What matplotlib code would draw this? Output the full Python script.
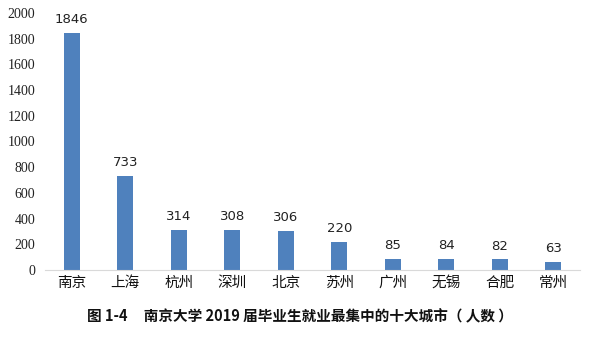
import matplotlib
matplotlib.use("Agg")
import matplotlib.pyplot as plt

plt.rcParams['font.family'] = ['Noto Sans CJK SC', 'DejaVu Sans']

cities = ["南京", "上海", "杭州", "深圳", "北京", "苏州", "广州", "无锡", "合肥", "常州"]
counts = [1846, 733, 314, 308, 306, 220, 85, 84, 82, 63]
yticks = [0, 200, 400, 600, 800, 1000, 1200, 1400, 1600, 1800, 2000]
title = "图 1-4     南京大学 2019 届毕业生就业最集中的十大城市（ 人数 ）"

fig = plt.figure(figsize=(5.91, 3.38), dpi=100)
ax = fig.add_axes([45 / 591, 68 / 338, 535 / 591, 257 / 338])

x = range(len(cities))
ax.bar(x, counts, width=0.3, color="#4F81BD", zorder=2)

for xi, v in zip(x, counts):
    ax.annotate(str(v), (xi, v), xytext=(0, 5), textcoords="offset points",
                ha="center", va="bottom", fontsize=9.5, color="#222222",
                family=["DejaVu Sans"])

ax.set_xlim(-0.5, len(cities) - 0.5)
ax.set_ylim(0, 2000)
ax.set_yticks(yticks)
ax.set_yticklabels([str(t) for t in yticks], family=["Liberation Serif"],
                   fontsize=10, color="#222222")
ax.set_xticks(list(x))
ax.set_xticklabels(cities, fontsize=10.5, color="#111111")
ax.tick_params(axis="both", length=0)
ax.tick_params(axis="y", pad=7)
ax.tick_params(axis="x", pad=4)

for side in ("left", "right", "top"):
    ax.spines[side].set_visible(False)
ax.spines["bottom"].set_color("#D9D9D9")
ax.spines["bottom"].set_linewidth(0.8)

fig.text(300 / 591, 1 - 316 / 338, title, ha="center", va="center",
         fontsize=10.5, fontweight="bold", color="#111111")

fig.savefig("out.png", dpi=100)
